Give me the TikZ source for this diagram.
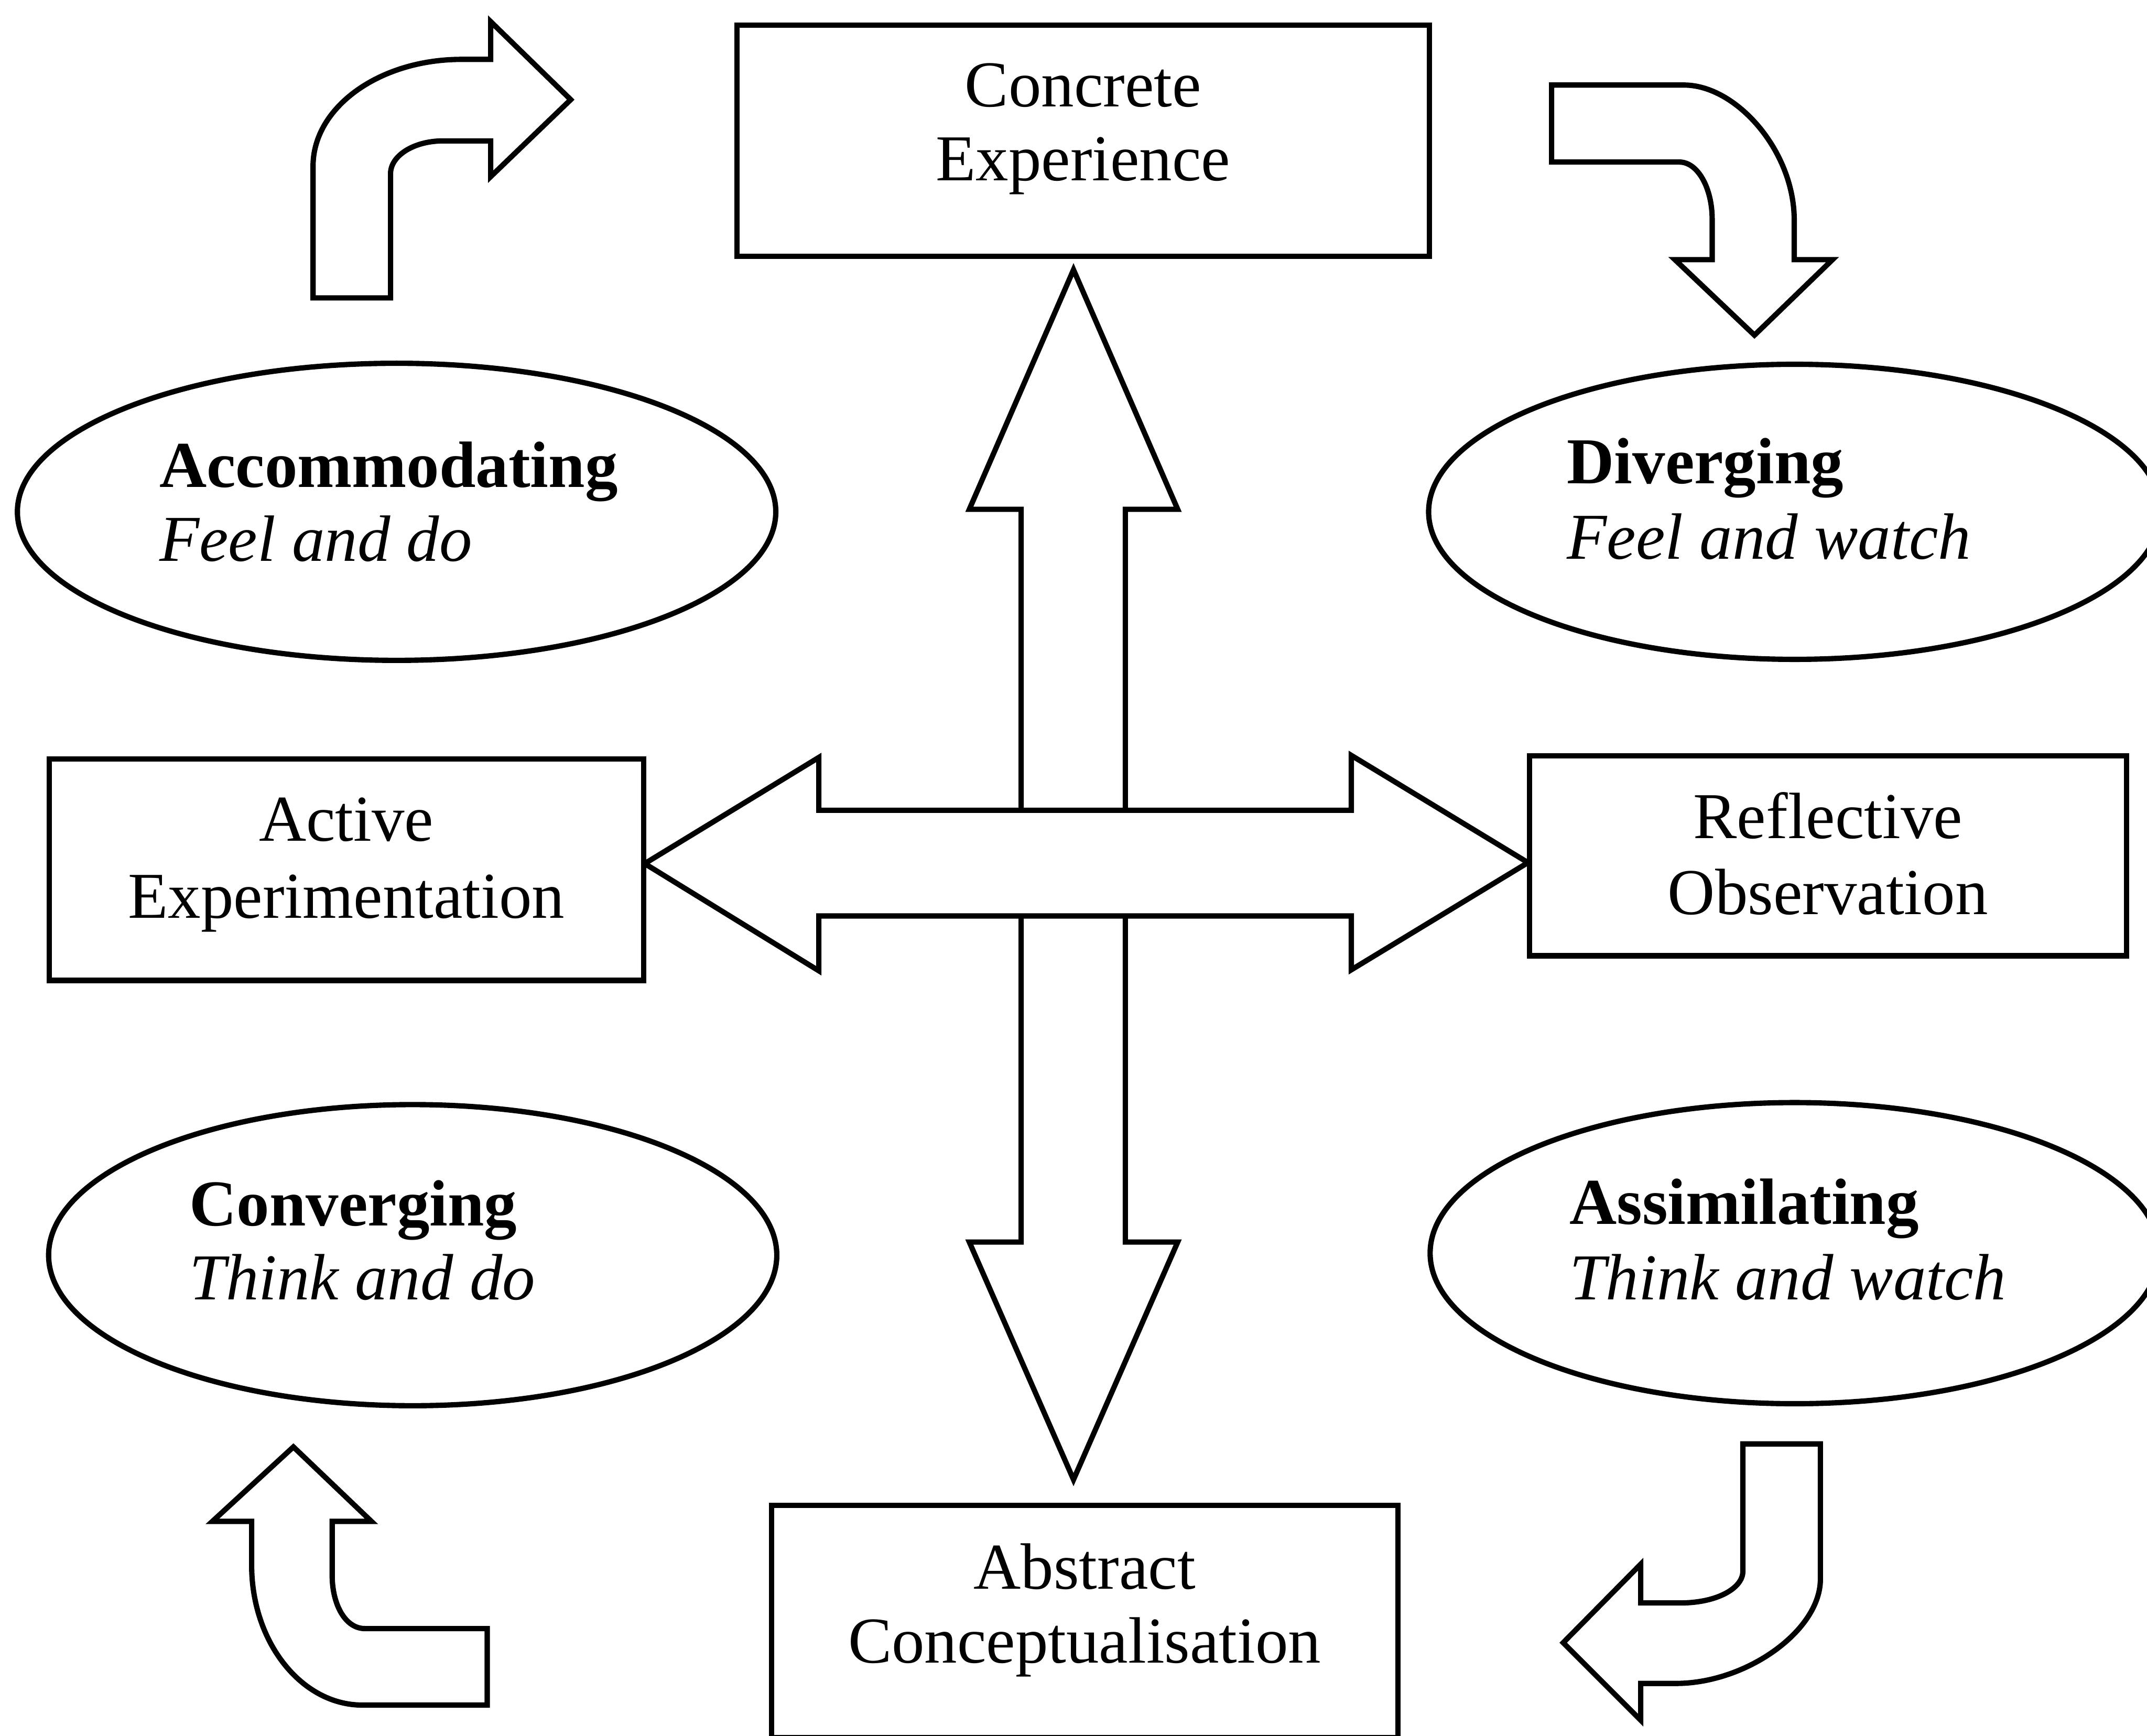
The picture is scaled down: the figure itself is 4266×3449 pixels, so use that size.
\documentclass[tikz,border=0pt]{standalone}
\usepackage{fontspec}
\setmainfont{Liberation Serif}
\usetikzlibrary{shapes.geometric}
\begin{document}
\begin{tikzpicture}[x=0.01cm,y=-0.01cm,
  ln/.style={line width=3pt, line join=miter},
  box/.style={draw, ln, rectangle, inner sep=0pt, fill=white},
  oval/.style={draw, ln, ellipse, inner sep=0pt},
  blk/.style={draw, ln, fill=white},
  lbl/.style={inner sep=0pt, font=\fontsize{37}{42}\selectfont},
  lblb/.style={lbl, font=\fontsize{37}{42}\selectfont\bfseries},
  lbli/.style={lbl, font=\fontsize{37}{42}\selectfont\itshape}]
\useasboundingbox (0,0) rectangle (4266,3449);
\clip (0,0) rectangle (4266,3449);
\fill[white] (0,0) rectangle (4266,3449);

% vertical double block arrow
\draw[blk] (2133,536) -- (2340,1012) -- (2236,1012) -- (2236,2468) -- (2340,2468)
  -- (2133,2940) -- (1926,2468) -- (2029,2468) -- (2029,1012) -- (1926,1012) -- cycle;
% horizontal double block arrow
\draw[blk] (1281,1716) -- (1627,1505) -- (1627,1610) -- (2685,1610) -- (2685,1501)
  -- (3036,1714) -- (2685,1927) -- (2685,1820) -- (1627,1820) -- (1627,1929) -- cycle;

% boxes
\node[box, minimum width=13.75cm, minimum height=4.59cm] (ce) at (2152.5,279.5) {};
\node[box, minimum width=11.81cm, minimum height=4.40cm] (ae) at (688.5,1728) {};
\node[box, minimum width=11.86cm, minimum height=3.97cm] (ro) at (3632,1700.5) {};
\node[box, minimum width=12.44cm, minimum height=4.61cm] (ac) at (2155,3221.5) {};

\node[lbl, anchor=base] (ce1) at (2152,212) {Concrete};
\node[lbl, anchor=base] (ce2) at (2152,359) {Experience};
\node[lbl, anchor=base] (ae1) at (688,1671) {Active};
\node[lbl, anchor=base] (ae2) at (688,1824) {Experimentation};
\node[lbl, anchor=base] (ro1) at (3632,1666) {Reflective};
\node[lbl, anchor=base] (ro2) at (3632,1817) {Observation};
\node[lbl, anchor=base] (ac1) at (2155,3157) {Abstract};
\node[lbl, anchor=base] (ac2) at (2155,3304) {Conceptualisation};

% ellipses
\node[oval, minimum width=15.06cm, minimum height=5.90cm] (acc) at (788,1017) {};
\node[oval, minimum width=14.54cm, minimum height=5.86cm] (div) at (3566,1017) {};
\node[oval, minimum width=14.46cm, minimum height=5.98cm] (con) at (820,2494) {};
\node[oval, minimum width=14.48cm, minimum height=5.98cm] (ass) at (3566,2490) {};

\node[lblb, anchor=base west] (acc1) at (316,968) {Accommodating};
\node[lbli, anchor=base west] (acc2) at (316,1115) {Feel and do};
\node[lblb, anchor=base west] (div1) at (3113,961) {Diverging};
\node[lbli, anchor=base west] (div2) at (3113,1111) {Feel and watch};
\node[lblb, anchor=base west] (con1) at (376,2436) {Converging};
\node[lbli, anchor=base west] (con2) at (376,2582) {Think and do};
\node[lblb, anchor=base west] (ass1) at (3118,2432) {Assimilating};
\node[lbli, anchor=base west] (ass2) at (3118,2582) {Think and watch};

% curved block arrows
\draw[blk] (622,592) -- (622,330) .. controls (622,213) and (754,118) .. (917,118)
  -- (975,118) -- (975,43) -- (1134,198) -- (975,351) -- (975,280) -- (880,280)
  .. controls (823,280) and (776,309) .. (776,345) -- (776,592) -- cycle;
\draw[blk] (3083,169) -- (3346,169) .. controls (3450,169) and (3565,300) .. (3565,437)
  -- (3565,516) -- (3641,516) -- (3486,666) -- (3328,516) -- (3402,516) -- (3402,436)
  .. controls (3402,373) and (3373,322) .. (3337,322) -- (3083,322) -- cycle;
\draw[blk] (583,2875) -- (738,3023) -- (660,3023) -- (660,3130)
  .. controls (660,3188) and (686,3236) .. (725,3236) -- (968,3236) -- (968,3388)
  -- (720,3388) .. controls (599,3388) and (500,3263) .. (500,3110) -- (500,3023)
  -- (422,3023) -- cycle;
\draw[blk] (3463,2869) -- (3617,2869) -- (3617,3138) .. controls (3617,3240) and (3470,3345) .. (3330,3345)
  -- (3260,3345) -- (3260,3418) -- (3106,3264) -- (3260,3108) -- (3260,3185) -- (3340,3185)
  .. controls (3409,3185) and (3463,3157) .. (3463,3122) -- cycle;
\end{tikzpicture}
\end{document}
